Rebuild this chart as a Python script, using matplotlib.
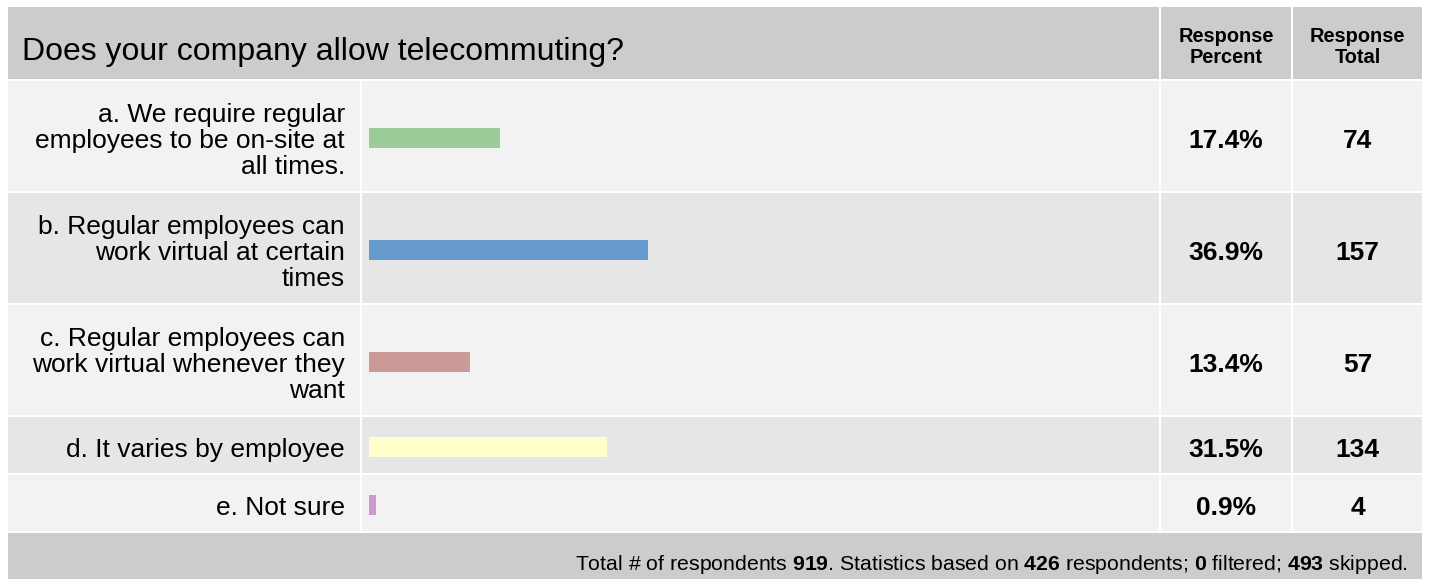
import matplotlib
matplotlib.use('Agg')
import matplotlib.pyplot as plt
from matplotlib.patches import Rectangle

# Data
question = "Does your company allow telecommuting?"
answers = [
    "a. We require regular\nemployees to be on-site at\nall times.",
    "b. Regular employees can\nwork virtual at certain\ntimes",
    "c. Regular employees can\nwork virtual whenever they\nwant",
    "d. It varies by employee",
    "e. Not sure",
]
percents = [17.4, 36.9, 13.4, 31.5, 0.9]
totals = [74, 157, 57, 134, 4]
bar_colors = ['#99cc99', '#6699cc', '#cc9999', '#ffffcc', '#cc99cc']
col_headers = ["Response\nPercent", "Response\nTotal"]
footer = (r"Total # of respondents $\mathbf{919}$. Statistics based on $\mathbf{426}$ "
          r"respondents; $\mathbf{0}$ filtered; $\mathbf{493}$ skipped.")

plt.rcParams['font.family'] = ['Liberation Sans', 'DejaVu Sans']
plt.rcParams['mathtext.fontset'] = 'custom'
plt.rcParams['mathtext.rm'] = 'Liberation Sans'
plt.rcParams['mathtext.bf'] = 'Liberation Sans:bold'

W, H = 1429, 579
fig = plt.figure(figsize=(W / 100, H / 100), dpi=100)
fig.patch.set_facecolor('white')
bg = fig.add_axes([0, 0, 1, 1])
bg.set_xlim(0, W)
bg.set_ylim(H, 0)
bg.axis('off')

# layout (pixels)
left, right = 8, 1422
label_x1 = 360
bar_x0 = 362
pct_x0, pct_x1 = 1161, 1291
tot_x0, tot_x1 = 1293, 1422
head_top, head_bot = 7, 79
gap = 2
row_h = [110 if '\n' in a else 56 for a in answers]

def cell(x0, y0, x1, y1, color):
    bg.add_patch(Rectangle((x0, y0), x1 - x0, y1 - y0, facecolor=color, edgecolor='none'))

# header
cell(left, head_top, pct_x0 - gap, head_bot, '#cccccc')
cell(pct_x0, head_top, pct_x1, head_bot, '#cccccc')
cell(tot_x0, head_top, tot_x1, head_bot, '#cccccc')
bg.text(22, 60, question, fontsize=23, va='baseline', ha='left')
for hdr, (x0, x1) in zip(col_headers, [(pct_x0, pct_x1), (tot_x0, tot_x1)]):
    bg.text((x0 + x1) / 2, 47, hdr, fontsize=14.4,
            fontweight='bold', ha='center', va='center', linespacing=1.1)

# rows
y = head_bot + gap
centers = []
for i, (lab, h) in enumerate(zip(answers, row_h)):
    color = '#f2f2f2' if i % 2 == 0 else '#e6e6e6'
    y0, y1 = y, y + h
    cell(left, y0, label_x1, y1, color)
    cell(bar_x0, y0, pct_x0 - gap, y1, color)
    cell(pct_x0, y0, pct_x1, y1, color)
    cell(tot_x0, y0, tot_x1, y1, color)
    c = (y0 + y1) / 2
    centers.append(c + 2)
    bg.text(345, c + 5, lab, fontsize=19, ha='right', va='center', linespacing=1.1)
    bg.text((pct_x0 + pct_x1) / 2, c + 5, f"{percents[i]:.1f}%", fontsize=19,
            fontweight='bold', ha='center', va='center')
    bg.text((tot_x0 + tot_x1) / 2, c + 5, f"{totals[i]}", fontsize=19,
            fontweight='bold', ha='center', va='center')
    y = y1 + gap

rows_bot = y - gap
# footer
cell(left, y, right, H + 5, '#cccccc')
bg.text(1408, 564, footer, fontsize=15.3, ha='right', va='center')

# bars drawn through a data axes on the bar column
bx0, bx1 = 369, 369 + 755
ax = fig.add_axes([bx0 / W, 1 - rows_bot / H, (bx1 - bx0) / W, (rows_bot - (head_bot + gap)) / H])
ax.set_xlim(0, 100)
ax.set_ylim(rows_bot, head_bot + gap)
ax.barh(centers, percents, height=20, color=bar_colors, edgecolor='none')
ax.axis('off')
ax.patch.set_alpha(0)

fig.savefig('out.png', dpi=100)
